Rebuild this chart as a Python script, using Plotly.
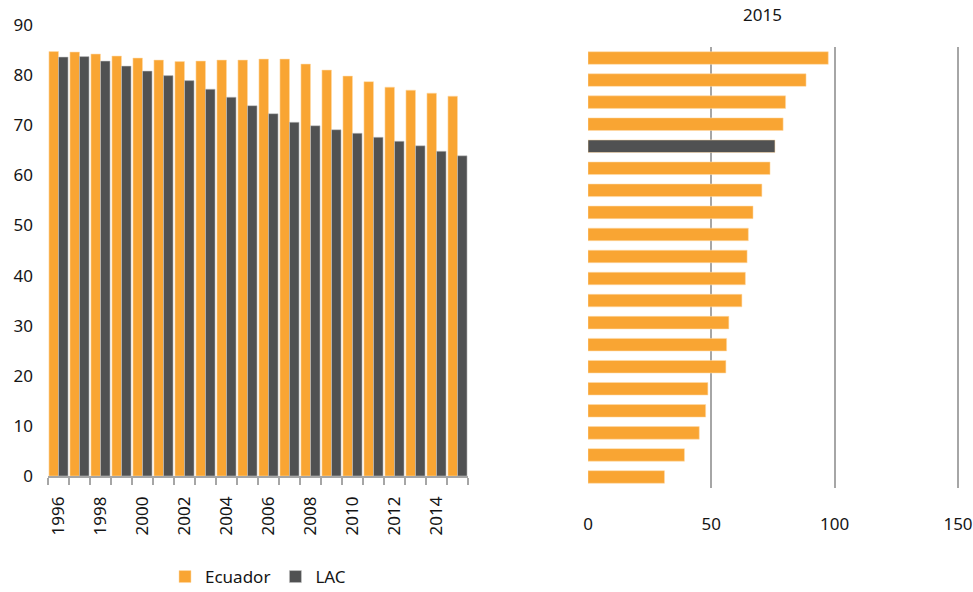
import plotly.graph_objects as go

# Left chart data
years = list(range(1996, 2016))
ecuador = [84.7, 84.6, 84.2, 83.8, 83.4, 83.0, 82.7, 82.8, 83.0, 83.0,
           83.2, 83.2, 82.2, 81.0, 79.8, 78.7, 77.6, 77.0, 76.4, 75.8]
lac = [83.6, 83.7, 82.8, 81.8, 80.8, 79.9, 78.9, 77.2, 75.6, 73.9,
       72.3, 70.6, 69.9, 69.1, 68.4, 67.6, 66.8, 65.9, 64.8, 63.9]

# Right chart data (2015 ranking, top to bottom)
ranks = list(range(1, 21))
values_2015 = [97.4, 88.4, 80.1, 79.1, 75.8, 73.8, 70.5, 66.9, 65.0, 64.5,
               63.8, 62.4, 57.1, 56.2, 55.9, 48.6, 47.7, 45.1, 39.1, 31.0]
highlight_rank = 5  # Ecuador

ORANGE = "#F9A533"
DARK = "#505152"
TXT = "#151515"
W, H = 973, 592
FAM = "Noto Sans"
FS = 17

fig = go.Figure()
fig.add_trace(go.Bar(x=years, y=ecuador, name="Ecuador", marker_color=ORANGE,
                     marker_line=dict(color="rgba(255,220,170,0.9)", width=0.6),
                     xaxis="x", yaxis="y"))
fig.add_trace(go.Bar(x=years, y=lac, name="LAC", marker_color=DARK,
                     marker_line=dict(color="rgba(200,200,200,0.9)", width=0.6),
                     xaxis="x", yaxis="y"))

colors = [DARK if r == highlight_rank else ORANGE for r in ranks]
fig.add_trace(go.Bar(y=ranks, x=values_2015, orientation="h", marker_color=colors,
                     marker_line=dict(color="rgba(255,220,170,0.9)", width=0.6),
                     width=0.57, showlegend=False, xaxis="x2", yaxis="y2"))

def px_x(p):
    return p / W

def px_y(p):
    return (H - p) / H

# right axis: 0 -> 588 px, 150 -> 958 px; range extended a bit so the 150 gridline is drawn
X2_MAX = 152
x2_end = 588 + X2_MAX * (958 - 588) / 150

font = dict(family=FAM, size=FS, color=TXT)

fig.update_layout(
    width=W, height=H,
    margin=dict(l=0, r=0, t=0, b=0, autoexpand=False),
    paper_bgcolor="white", plot_bgcolor="white",
    barmode="group", bargap=0.09, bargroupgap=0,
    font=font,
    showlegend=True,
    legend=dict(orientation="h", x=px_x(258), xanchor="center", y=px_y(577), yanchor="middle",
                font=dict(family=FAM, size=FS, color=TXT), itemwidth=30,
                traceorder="normal"),
    xaxis=dict(domain=[px_x(48), px_x(468)], range=[1995.5, 2015.5],
               tickmode="array", tickvals=list(range(1996, 2016, 2)),
               ticktext=[str(y) for y in range(1996, 2016, 2)],
               tickangle=-90, ticks="", showgrid=False, zeroline=False,
               showline=True, linecolor="#A6A6A6", linewidth=1.5,
               ticklabelstandoff=12, automargin=False,
               minor=dict(tickmode="linear", tick0=1995.5, dtick=1, ticks="outside",
                          ticklen=7, tickcolor="#A6A6A6", tickwidth=1.5, showgrid=False),
               anchor="y"),
    yaxis=dict(domain=[px_y(476), px_y(25)], range=[0, 90], dtick=10,
               showgrid=False, zeroline=False, showline=False, ticks="",
               ticklabelstandoff=14, automargin=False, anchor="x"),
    xaxis2=dict(domain=[px_x(588), min(1.0, px_x(x2_end))], range=[0, X2_MAX],
                tickmode="array", tickvals=[0, 50, 100, 150],
                showgrid=True, gridcolor="#A6A6A6", gridwidth=1.5,
                zeroline=False, showline=False, ticks="",
                ticklabelstandoff=24, automargin=False, anchor="y2"),
    yaxis2=dict(domain=[px_y(488), px_y(47)], range=[20.5, 0.5],
                showticklabels=False, showgrid=False, zeroline=False,
                showline=False, ticks="", automargin=False, anchor="x2"),
    annotations=[dict(text="2015", x=px_x(762), y=px_y(15), xref="paper", yref="paper",
                      showarrow=False, font=dict(family=FAM, size=FS, color=TXT),
                      xanchor="center", yanchor="middle")],
)

fig.write_html("out.html",
               config={"displayModeBar": False},
               post_script="document.body.style.margin='0';document.body.style.overflow='hidden';")
